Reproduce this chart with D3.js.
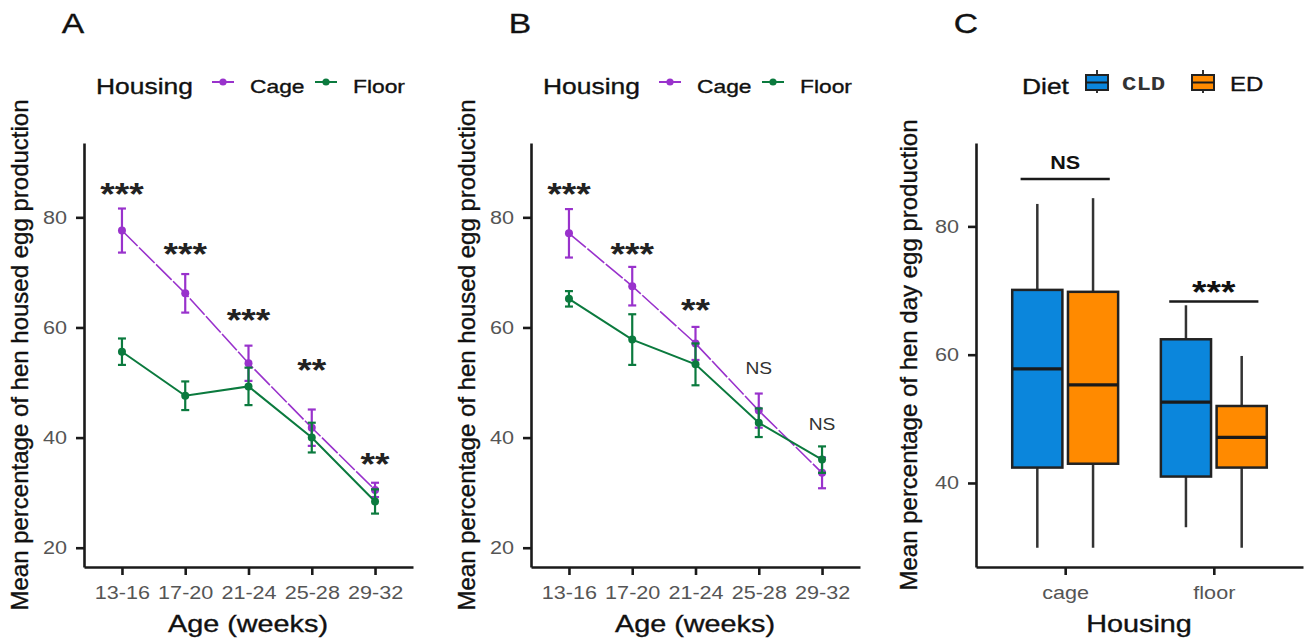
<!DOCTYPE html>
<html>
<head>
<meta charset="utf-8">
<script src="https://cdnjs.cloudflare.com/ajax/libs/d3/7.8.5/d3.min.js"></script>
<style>
  body { margin: 0; background: #fff; }
  svg text { font-family: "Liberation Sans", Arial, sans-serif; }
</style>
</head>
<body>
<div id="chart"></div>
<script>
// values
var ages = ["13-16", "17-20", "21-24", "25-28", "29-32"];

// panel A
var cageA = [77.6, 66.2, 53.5, 41.8, 30.5];
var cageAerr = [4.0, 3.5, 3.2, 3.3, 1.3];
var floorA = [55.6, 47.6, 49.3, 40.0, 28.4];
var floorAerr = [2.4, 2.6, 3.4, 2.7, 2.2];
var sigA = ["***", "***", "***", "**", "**"];
var sigAy = [85.5, 74.6, 62.7, 53.5, 36.5];

// panel B
var cageB = [77.1, 67.5, 57.1, 44.9, 33.6];
var cageBerr = [4.4, 3.5, 3.0, 3.1, 2.8];
var floorB = [65.2, 57.8, 53.3, 42.7, 36.0];
var floorBerr = [1.4, 4.6, 3.8, 2.6, 2.4];
var sigB = ["***", "***", "**", "NS", "NS"];
var sigBy = [85.5, 74.6, 64.5, 52.7, 42.4];

// panel C : [min, q1, median, q3, max] per housing
var housing = ["cage", "floor"];
var diets = ["CLD", "ED"];
var cldBox = [[29.9, 42.4, 57.8, 70.1, 83.5], [33.1, 41.0, 52.6, 62.4, 67.7]];
var edBox = [[29.9, 43.0, 55.3, 69.8, 84.4], [29.9, 42.4, 47.1, 52.0, 59.8]];
var sigC = ["NS", "***"];
var sigCy = [87.4, 68.3];

var yTicksAB = [20, 40, 60, 80];
var yTicksC = [40, 60, 80];

var purple = "#9932cc", green = "#0b7a3e";
var blue = "#0b86dc", orange = "#ff8a00";

var svg = d3.select("#chart").append("svg").attr("width", 1306).attr("height", 640);

var plotTop = 143, plotBottom = 567;

// text in the figure is a little wider than the font
function widen(sel) {
  sel.each(function () {
    var w = this.getComputedTextLength();
    d3.select(this).attr("textLength", w * 1.2).attr("lengthAdjust", "spacingAndGlyphs");
  });
}

function styleAxis(g) {
  g.attr("font-size", null).attr("font-family", null);
  g.select(".domain").attr("stroke", "#1a1a1a").attr("stroke-width", 2.6);
  g.selectAll(".tick line").attr("stroke", "#1a1a1a").attr("stroke-width", 2.6);
  g.selectAll(".tick text").attr("fill", "#555").style("font-size", "18px").call(widen);
}

function label(x, y, txt, size, opts) {
  opts = opts || {};
  var t = svg.append("text").attr("x", x).attr("y", y).text(txt)
    .style("font-size", size + "px")
    .attr("fill", opts.fill || "#111")
    .attr("text-anchor", opts.anchor || "start");
  if (opts.bold) t.style("font-weight", "bold");
  if (opts.family) t.style("font-family", opts.family);
  if (opts.heavy) t.attr("stroke", opts.fill || "#111").attr("stroke-width", 0.35);
  if (opts.rotate) {
    t.attr("transform", "rotate(-90," + x + "," + y + ")");
  } else {
    t.call(widen);
  }
  return t;
}

function linePanel(left, letter, cage, cageErr, floor, floorErr, sig, sigY, ytitle) {
  var x = d3.scalePoint().domain(ages).range([left, left + 329]).padding(0.6);
  var y = d3.scaleLinear().domain([16.5, 93.5]).range([plotBottom, plotTop]);

  var series = [
    { name: "Cage", color: purple, vals: cage, errs: cageErr, width: 1.6, dash: "22,2" },
    { name: "Floor", color: green, vals: floor, errs: floorErr, width: 2, dash: null }
  ];

  var line = d3.line().x(function (d, i) { return x(ages[i]); }).y(function (d) { return y(d); });

  series.forEach(function (s) {
    var g = svg.append("g");
    g.append("path").attr("d", line(s.vals)).attr("fill", "none")
      .attr("stroke", s.color).attr("stroke-width", s.width)
      .attr("stroke-dasharray", s.dash);
    s.vals.forEach(function (v, i) {
      var cx = x(ages[i]);
      g.append("line").attr("x1", cx).attr("x2", cx)
        .attr("y1", y(v - s.errs[i])).attr("y2", y(v + s.errs[i]))
        .attr("stroke", s.color).attr("stroke-width", 2.2);
      [v - s.errs[i], v + s.errs[i]].forEach(function (e) {
        g.append("line").attr("x1", cx - 4).attr("x2", cx + 4)
          .attr("y1", y(e)).attr("y2", y(e))
          .attr("stroke", s.color).attr("stroke-width", 2.2);
      });
      g.append("circle").attr("cx", cx).attr("cy", y(v)).attr("r", 4).attr("fill", s.color);
    });
  });

  // significance marks
  sig.forEach(function (s, i) {
    if (s === "NS") {
      label(x(ages[i]), y(sigY[i]) + 6, s, 16, { anchor: "middle", fill: "#333" });
    } else {
      label(x(ages[i]), y(sigY[i]) + 18, s, 31, { anchor: "middle", fill: "#222", bold: true });
    }
  });

  svg.append("g").attr("transform", "translate(0," + plotBottom + ")")
    .call(d3.axisBottom(x).tickSize(8).tickSizeOuter(0).tickPadding(11)).call(styleAxis);
  svg.append("g").attr("transform", "translate(" + left + ",0)")
    .call(d3.axisLeft(y).tickValues(yTicksAB).tickSize(8).tickSizeOuter(0).tickPadding(9)).call(styleAxis);

  label(left + 164, 632, "Age (weeks)", 24, { anchor: "middle", heavy: true });
  label(left - 56, (plotTop + plotBottom) / 2, ytitle, 24, { anchor: "middle", rotate: true, heavy: true });
  label(left - 11, 33, letter, 28, { anchor: "middle", heavy: true });

  // legend
  var lx = left + 12;
  label(lx, 94, "Housing", 22, { heavy: true });
  series.forEach(function (s, i) {
    var kx = lx + 116 + i * 103;
    svg.append("line").attr("x1", kx).attr("x2", kx + 22).attr("y1", 82).attr("y2", 82)
      .attr("stroke", s.color).attr("stroke-width", 2);
    svg.append("circle").attr("cx", kx + 11).attr("cy", 82).attr("r", 3.6).attr("fill", s.color);
    label(kx + 38, 93, s.name, 19, { heavy: true });
  });
}

linePanel(84, "A", cageA, cageAerr, floorA, floorAerr, sigA, sigAy,
  "Mean percentage of hen housed egg production");
linePanel(531, "B", cageB, cageBerr, floorB, floorBerr, sigB, sigBy,
  "Mean percentage of hen housed egg production");

// panel C: boxplots
(function () {
  var left = 976;
  var x = d3.scalePoint().domain(housing).range([left, 1303]).padding(0.6);
  var step = x.step();
  var y = d3.scaleLinear().domain([26.9, 93]).range([plotBottom, plotTop]);
  var fills = [blue, orange];
  var boxes = [cldBox, edBox];
  var bw = 0.3375 * step;

  housing.forEach(function (h, i) {
    diets.forEach(function (d, j) {
      var st = boxes[j][i];
      var cx = x(h) + (j === 0 ? -0.1875 : 0.1875) * step;
      svg.append("line").attr("x1", cx).attr("x2", cx).attr("y1", y(st[0])).attr("y2", y(st[1]))
        .attr("stroke", "#333").attr("stroke-width", 2.5);
      svg.append("line").attr("x1", cx).attr("x2", cx).attr("y1", y(st[3])).attr("y2", y(st[4]))
        .attr("stroke", "#333").attr("stroke-width", 2.5);
      svg.append("rect").attr("x", cx - bw / 2).attr("width", bw)
        .attr("y", y(st[3])).attr("height", y(st[1]) - y(st[3]))
        .attr("fill", fills[j]).attr("stroke", "#222").attr("stroke-width", 2.5);
      svg.append("line").attr("x1", cx - bw / 2).attr("x2", cx + bw / 2)
        .attr("y1", y(st[2])).attr("y2", y(st[2]))
        .attr("stroke", "#1a1a1a").attr("stroke-width", 3.2);
    });
    var ly = y(sigCy[i]);
    svg.append("line").attr("x1", x(h) - 0.3 * step).attr("x2", x(h) + 0.3 * step)
      .attr("y1", ly).attr("y2", ly).attr("stroke", "#1a1a1a").attr("stroke-width", 2.5);
    if (sigC[i] === "NS") {
      label(x(h), ly - 9.5, sigC[i], 18, { anchor: "middle", bold: true, fill: "#111" });
    } else {
      label(x(h), ly + 2, sigC[i], 31, { anchor: "middle", bold: true, fill: "#111" });
    }
  });

  svg.append("g").attr("transform", "translate(0," + plotBottom + ")")
    .call(d3.axisBottom(x).tickSize(8).tickSizeOuter(0).tickPadding(11)).call(styleAxis);
  svg.append("g").attr("transform", "translate(" + left + ",0)")
    .call(d3.axisLeft(y).tickValues(yTicksC).tickSize(8).tickSizeOuter(0).tickPadding(9)).call(styleAxis);

  label(1139, 632, "Housing", 24, { anchor: "middle", heavy: true });
  label(917, (plotTop + plotBottom) / 2, "Mean percentage of hen day egg production", 24,
    { anchor: "middle", rotate: true, heavy: true });
  label(966, 33, "C", 28, { anchor: "middle", heavy: true });

  // legend
  label(1022, 94, "Diet", 22, { heavy: true });
  diets.forEach(function (d, j) {
    var kx = 1086 + j * 106;
    svg.append("line").attr("x1", kx + 11).attr("x2", kx + 11).attr("y1", 70).attr("y2", 93)
      .attr("stroke", "#333").attr("stroke-width", 2);
    svg.append("rect").attr("x", kx).attr("y", 75).attr("width", 22).attr("height", 15)
      .attr("fill", fills[j]).attr("stroke", "#222").attr("stroke-width", 2);
    svg.append("line").attr("x1", kx).attr("x2", kx + 22).attr("y1", 82.5).attr("y2", 82.5)
      .attr("stroke", "#1a1a1a").attr("stroke-width", 2);
    if (j === 0) {
      label(kx + 36, 90, d, 20, { bold: true, family: "'Liberation Mono', monospace", fill: "#333" });
    } else {
      label(kx + 38, 91, d, 20, { heavy: true });
    }
  });
})();
</script>
</body>
</html>
